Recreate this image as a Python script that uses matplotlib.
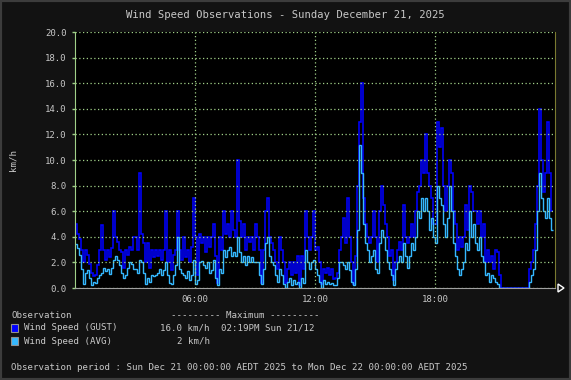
import numpy as np
import matplotlib
matplotlib.use('Agg')
import matplotlib.pyplot as plt
from matplotlib.patches import Rectangle, Polygon

# 6-minute samples, 10 per hour (hour 0 .. 23)
gust = [
    5.0, 4.2, 3.8, 3.0, 2.0, 3.0, 2.6, 1.9, 1.2, 0.9,
    1.0, 1.8, 3.0, 4.9, 3.0, 2.2, 3.0, 2.4, 3.1, 6.0,
    4.0, 3.6, 3.0, 2.8, 1.6, 3.0, 2.6, 3.2, 3.0, 4.0,
    4.0, 3.0, 9.0, 4.2, 3.5, 2.0, 3.5, 1.6, 3.0, 2.4,
    3.0, 2.5, 3.0, 2.2, 3.0, 6.0, 2.0, 3.0, 1.4, 2.6,
    3.0, 6.0, 3.0, 2.2, 4.0, 2.4, 3.0, 2.0, 3.2, 7.0,
    4.0, 1.0, 4.2, 3.5, 4.0, 2.8, 4.0, 3.2, 4.0, 5.0,
    2.5, 0.4, 4.0, 3.0, 6.0, 4.2, 5.0, 4.0, 6.0, 4.5,
    4.0, 10.0, 5.2, 4.0, 5.0, 3.0, 4.0, 3.6, 4.0, 3.0,
    5.0, 4.0, 3.0, 0.4, 3.0, 6.0, 7.0, 4.0, 3.5, 3.0,
    2.0, 1.5, 4.0, 3.0, 2.0, 0.4, 1.5, 2.0, 1.0, 2.0,
    1.2, 2.5, 0.2, 2.5, 1.5, 6.0, 4.0, 3.0, 4.0, 6.0,
    3.0, 3.2, 2.0, 0.3, 1.5, 1.2, 1.6, 1.0, 1.5, 0.7,
    0.8, 1.2, 3.0, 4.0, 5.5, 3.5, 7.0, 4.0, 2.0, 0.3,
    2.5, 8.0, 13.0, 16.0, 7.0, 5.0, 4.0, 3.5, 4.0, 6.0,
    4.0, 2.0, 6.0, 8.0, 6.5, 5.0, 4.0, 2.5, 3.0, 0.6,
    2.0, 3.0, 3.6, 3.0, 6.5, 4.0, 3.5, 4.0, 5.0, 4.0,
    6.0, 7.5, 8.0, 10.0, 9.0, 12.0, 9.0, 8.0, 7.0, 5.0,
    5.0, 13.0, 11.0, 12.5, 8.0, 6.0, 8.0, 10.0, 9.0, 6.0,
    5.0, 3.0, 4.0, 3.2, 4.0, 6.5, 4.5, 8.0, 7.5, 6.0,
    6.0, 5.0, 6.0, 4.0, 5.0, 2.0, 3.0, 2.0, 2.5, 1.5,
    3.0, 2.8, 1.0, 0.0, 0.0, 0.0, 0.0, 0.0, 0.0, 0.0,
    0.0, 0.0, 0.0, 0.0, 0.0, 0.0, 0.0, 1.5, 2.0, 3.0,
    5.0, 8.0, 14.0, 10.0, 7.5, 9.0, 13.0, 9.0, 6.0,
]
avg = [
    3.4, 3.1, 2.6, 1.5, 0.3, 1.2, 1.4, 0.8, 0.2, 0.5,
    0.4, 0.8, 1.0, 1.2, 1.6, 1.3, 1.5, 1.1, 1.6, 2.2,
    2.5, 2.2, 1.8, 1.2, 0.8, 1.0, 1.6, 2.0, 1.9, 1.5,
    1.5, 1.2, 2.2, 2.0, 1.2, 0.3, 0.8, 0.5, 1.0, 0.9,
    1.0, 1.2, 1.5, 1.0, 1.4, 2.0, 1.0, 0.4, 0.3, 1.0,
    1.8, 4.0, 1.5, 1.2, 1.0, 0.8, 1.3, 0.6, 1.0, 2.2,
    0.3, 0.6, 2.0, 2.1, 1.8, 1.6, 2.0, 1.2, 1.4, 2.2,
    0.8, 0.2, 1.5, 1.2, 3.0, 2.4, 3.0, 3.2, 2.5, 2.8,
    2.5, 4.0, 2.8, 2.0, 2.5, 1.8, 2.5, 2.0, 2.4, 2.0,
    2.0, 2.0, 1.0, 0.3, 1.5, 3.5, 4.0, 2.5, 2.0, 1.8,
    1.0, 0.5, 1.5, 1.0, 0.3, 0.0, 0.5, 0.8, 0.2, 0.6,
    0.3, 0.5, 0.0, 0.8, 0.4, 3.0, 2.0, 1.5, 2.0, 2.2,
    1.5, 1.0, 0.5, 0.0, 0.6, 0.3, 0.5, 0.3, 0.4, 0.2,
    0.2, 0.8, 2.0, 2.0, 1.8, 1.5, 2.0, 1.4, 0.5, 0.2,
    1.5, 4.5, 11.2, 9.0, 5.0, 3.5, 3.0, 2.0, 2.5, 3.0,
    1.5, 1.2, 3.5, 4.5, 4.0, 3.0, 2.0, 1.5, 1.0, 0.2,
    1.5, 2.0, 2.5, 2.0, 3.5, 2.5, 1.6, 2.5, 3.5, 3.0,
    4.0, 6.0, 5.5, 7.0, 6.0, 7.0, 6.0, 4.5, 5.5, 4.0,
    3.5, 8.0, 7.0, 6.5, 5.0, 4.0, 5.5, 8.0, 6.0, 3.5,
    2.5, 1.5, 1.0, 1.5, 2.0, 3.5, 3.0, 6.0, 4.0, 5.0,
    3.5, 3.0, 4.0, 2.5, 2.0, 1.0, 1.2, 0.5, 1.0, 0.8,
    0.5, 0.3, 0.0, 0.0, 0.0, 0.0, 0.0, 0.0, 0.0, 0.0,
    0.0, 0.0, 0.0, 0.0, 0.0, 0.0, 0.0, 0.5, 1.0, 1.5,
    3.0, 6.0, 9.0, 7.0, 6.0, 5.5, 7.0, 5.5, 4.5,
]
xticks = [6, 12, 18]
xlabels = ['06:00', '12:00', '18:00']
yticks = [0, 2, 4, 6, 8, 10, 12, 14, 16, 18, 20]

W, H = 571, 380
bg = '#121212'
txt = '#c8c8c8'
grid_c = '#a0d088'
gust_c = '#0000ff'
avg_c = '#35b8ff'
mono = 'DejaVu Sans Mono'

fig = plt.figure(figsize=(W / 100, H / 100), dpi=100, facecolor=bg)

# frame around the image
fig.patches.append(Rectangle((0, 0), 1, 1, transform=fig.transFigure,
                             fill=False, edgecolor='#3c3c3c', linewidth=3))


def fx(px):
    return px / W


def fy(py):
    return 1 - py / H


ax = fig.add_axes([fx(75), fy(288), 480 / W, 256 / H])
ax.set_facecolor('black')

edges = np.arange(len(gust) + 1) / 10.0
ax.stairs(gust, edges, baseline=None, color=gust_c, linewidth=1.15)
ax.stairs(avg, edges, baseline=None, color=avg_c, linewidth=1.0)

ax.set_xlim(0, 24)
ax.set_ylim(0, 20)
ax.set_xticks(xticks)
ax.set_xticklabels(xlabels)
ax.set_yticks(yticks)
ax.set_yticklabels(['%.1f' % v for v in yticks])
ax.tick_params(colors=txt, labelsize=6.5, length=2, width=1, pad=4)
ax.tick_params(axis='x', length=0, pad=5)
ax.tick_params(axis='y', color=grid_c)
for lab in ax.get_xticklabels() + ax.get_yticklabels():
    lab.set_family(mono)

ax.grid(True, color=grid_c, linestyle=(0, (1, 2)), linewidth=0.9)
for g in ax.get_xgridlines() + ax.get_ygridlines():
    g.set_zorder(0.5)

ax.spines['left'].set_color(grid_c)
ax.spines['bottom'].set_color('#a0a0a0')
ax.spines['top'].set_visible(False)
ax.spines['right'].set_color('#7a7a30')

# arrow at end of x axis
fig.patches.append(Polygon([(fx(558), fy(284)), (fx(558), fy(292)), (fx(564), fy(288))],
                           closed=True, transform=fig.transFigure,
                           facecolor='none', edgecolor='white', linewidth=1))

fig.text(0.5, fy(15), 'Wind Speed Observations - Sunday December 21, 2025',
         ha='center', va='center', color=txt, fontsize=7.6, family=mono)
fig.text(fx(13), fy(160), 'km/h', rotation=90, ha='center', va='center',
         color=txt, fontsize=6.6, family=mono)

fs = 6.6
fig.text(fx(11), fy(315), 'Observation', ha='left', va='center', color=txt, fontsize=fs, family=mono)
fig.text(fx(171), fy(315), '--------- Maximum ---------', ha='left', va='center',
         color=txt, fontsize=fs, family=mono)

rows = [('Wind Speed (GUST)', gust_c, '%.1f km/h' % max(gust), '02:19PM Sun 21/12', 328),
        ('Wind Speed (AVG)', avg_c, '2 km/h', '', 341)]
for name, col, val, when, y in rows:
    fig.patches.append(Rectangle((fx(11), fy(y + 4)), 7 / W, 8 / H, transform=fig.transFigure,
                                 facecolor=col, edgecolor='#909090', linewidth=0.8))
    fig.text(fx(24), fy(y), name, ha='left', va='center', color=txt, fontsize=fs, family=mono)
    fig.text(fx(210), fy(y), val, ha='right', va='center', color=txt, fontsize=fs, family=mono)
    if when:
        fig.text(fx(221), fy(y), when, ha='left', va='center', color=txt, fontsize=fs, family=mono)

fig.text(fx(11), fy(367),
         'Observation period : Sun Dec 21 00:00:00 AEDT 2025 to Mon Dec 22 00:00:00 AEDT 2025',
         ha='left', va='center', color=txt, fontsize=fs, family=mono)

fig.savefig('out.png', dpi=100, facecolor=bg)
